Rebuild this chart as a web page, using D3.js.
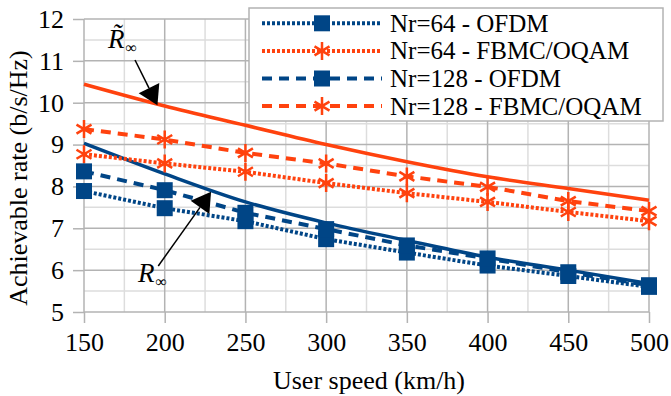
<!DOCTYPE html>
<html>
<head>
<meta charset="utf-8">
<script src="https://cdn.jsdelivr.net/npm/d3@7"></script>
<style>
  body { margin: 0; background: #fff; }
  text { font-family: "Liberation Serif", "Times New Roman", serif; fill: #000; }
</style>
</head>
<body>
<div id="chart"></div>
<script>
// user speed (km/h)
var speeds = [150, 200, 250, 300, 350, 400, 450, 500]

// achievable rate (b/s/Hz)
var ofdm64  = [7.89, 7.48, 7.17, 6.74, 6.42, 6.11, 5.86, 5.60]
var fbmc64  = [8.77, 8.55, 8.35, 8.08, 7.84, 7.63, 7.39, 7.17]
var ofdm128 = [8.36, 7.91, 7.37, 6.98, 6.59, 6.28, 5.95, 5.64]
var fbmc128 = [9.37, 9.12, 8.80, 8.55, 8.24, 7.99, 7.65, 7.41]
var rInfTilde = [10.44, 9.92, 9.46, 9.00, 8.59, 8.23, 7.95, 7.67]
var rInf      = [9.03, 8.30, 7.63, 7.13, 6.71, 6.31, 6.00, 5.68]

var seriesNames = ['Nr=64 - OFDM', 'Nr=64 - FBMC/OQAM', 'Nr=128 - OFDM', 'Nr=128 - FBMC/OQAM']
var xTicks = [150, 200, 250, 300, 350, 400, 450, 500]
var yTicks = [5, 6, 7, 8, 9, 10, 11, 12]

var blue = '#004586', red = '#ff420e'
var dotted = '3,2', dashed = '10,7'

var series = [
  {name: seriesNames[0], values: ofdm64,  color: blue, dash: dotted, marker: 'square'},
  {name: seriesNames[1], values: fbmc64,  color: red,  dash: dotted, marker: 'star'},
  {name: seriesNames[2], values: ofdm128, color: blue, dash: dashed, marker: 'square'},
  {name: seriesNames[3], values: fbmc128, color: red,  dash: dashed, marker: 'star'}
]

var W = 671, H = 396
var m = {left: 84, right: 22, top: 19, bottom: 84}
var serif = '"Liberation Serif", "Times New Roman", serif'

var svg = d3.select('#chart').append('svg').attr('width', W).attr('height', H)

var x = d3.scaleLinear().domain([150, 500]).range([m.left, W - m.right])
var y = d3.scaleLinear().domain([5, 12]).range([H - m.bottom, m.top])

// grid, minor first then major
var minorX = d3.range(175, 500, 50), minorY = d3.range(5.5, 12, 1)
var grid = svg.append('g')
grid.selectAll('line.mx').data(minorX).join('line')
  .attr('x1', d => x(d)).attr('x2', d => x(d)).attr('y1', y(5)).attr('y2', y(12))
  .attr('stroke', '#dddddd').attr('stroke-width', 1.5)
grid.selectAll('line.my').data(minorY).join('line')
  .attr('y1', d => y(d)).attr('y2', d => y(d)).attr('x1', x(150)).attr('x2', x(500))
  .attr('stroke', '#dddddd').attr('stroke-width', 1.5)
grid.selectAll('line.gx').data(xTicks).join('line')
  .attr('x1', d => x(d)).attr('x2', d => x(d)).attr('y1', y(5)).attr('y2', y(12))
  .attr('stroke', '#b3b3b3').attr('stroke-width', 1.5)
grid.selectAll('line.gy').data(yTicks).join('line')
  .attr('y1', d => y(d)).attr('y2', d => y(d)).attr('x1', x(150)).attr('x2', x(500))
  .attr('stroke', '#b3b3b3').attr('stroke-width', 1.5)

// axes (ticks + labels)
var xAxis = svg.append('g').attr('transform', 'translate(0,' + y(5) + ')')
  .call(d3.axisBottom(x).tickValues(xTicks).tickFormat(d3.format('d')).tickSize(11).tickPadding(10))
var yAxis = svg.append('g').attr('transform', 'translate(' + x(150) + ',0)')
  .call(d3.axisLeft(y).tickValues(yTicks).tickFormat(d3.format('d')).tickSize(11).tickPadding(9))
;[xAxis, yAxis].forEach(function(a){
  a.select('.domain').remove()
  a.selectAll('.tick line').attr('stroke', '#b3b3b3').attr('stroke-width', 1.5)
  a.selectAll('.tick text').style('font-size', '26px').style('font-family', serif).attr('fill', '#000')
})

svg.append('text').attr('x', 369).attr('y', 389).attr('text-anchor', 'middle')
  .attr('font-size', 26).text('User speed (km/h)')
svg.append('text').attr('transform', 'translate(27,178) rotate(-90)').attr('text-anchor', 'middle')
  .attr('font-size', 26).text('Achievable rate (b/s/Hz)')

// lines
var straight = d3.line().x((d, i) => x(speeds[i])).y(d => y(d))
var smooth = d3.line().x((d, i) => x(speeds[i])).y(d => y(d)).curve(d3.curveMonotoneX)

var plot = svg.append('g')
plot.append('path').attr('d', smooth(rInf)).attr('fill', 'none').attr('stroke', blue).attr('stroke-width', 3.5)
plot.append('path').attr('d', smooth(rInfTilde)).attr('fill', 'none').attr('stroke', red).attr('stroke-width', 3.5)

var starPath = 'M0,-9V9M-7.5,-4.5L7.5,4.5M-7.5,4.5L7.5,-4.5'

function drawMarker(g, s, cx, cy){
  if (s.marker == 'square') {
    g.append('rect').attr('x', cx - 8).attr('y', cy - 8).attr('width', 16).attr('height', 16).attr('fill', s.color)
  } else {
    g.append('path').attr('d', starPath).attr('transform', 'translate(' + cx + ',' + cy + ')')
      .attr('fill', 'none').attr('stroke', s.color).attr('stroke-width', 2.5)
  }
}

series.forEach(function(s){
  plot.append('path').attr('d', straight(s.values)).attr('fill', 'none')
    .attr('stroke', s.color).attr('stroke-width', 4).attr('stroke-dasharray', s.dash)
})
series.forEach(function(s){
  s.values.forEach(function(v, i){ drawMarker(plot, s, x(speeds[i]), y(v)) })
})

// annotations (arrow tail / head in data units)
var arrows = [
  {from: [181.6, 11.02], to: [195.5, 9.94]},
  {from: [196.0, 6.10], to: [228.7, 7.87]}
]
arrows.forEach(function(a){
  var x0 = x(a.from[0]), y0 = y(a.from[1]), x1 = x(a.to[0]), y1 = y(a.to[1])
  var dx = x1 - x0, dy = y1 - y0, len = Math.sqrt(dx * dx + dy * dy)
  var ux = dx / len, uy = dy / len, L = 19, hw = 11.5
  var bx = x1 - ux * L, by = y1 - uy * L
  svg.append('line').attr('x1', x0).attr('y1', y0).attr('x2', bx).attr('y2', by)
    .attr('stroke', '#000').attr('stroke-width', 1.5)
  svg.append('path').attr('fill', '#000')
    .attr('d', 'M' + x1 + ',' + y1 + 'L' + (bx - uy * hw) + ',' + (by + ux * hw) + 'L' + (bx + uy * hw) + ',' + (by - ux * hw) + 'Z')
})

var labels = [
  {at: [164.9, 11.31], symbol: 'R\u0303'},
  {at: [183.5, 5.71], symbol: 'R'}
]
labels.forEach(function(l){
  var t = svg.append('text').attr('x', x(l.at[0])).attr('y', y(l.at[1])).attr('font-size', 27)
  t.append('tspan').attr('font-style', 'italic').text(l.symbol)
  t.append('tspan').attr('font-size', 16).attr('dy', 5).attr('dx', 1).text('∞')
})

// legend
var lg = svg.append('g')
lg.append('rect').attr('x', 249).attr('y', 8).attr('width', 414).attr('height', 113)
  .attr('fill', '#fff').attr('stroke', '#b3b3b3').attr('stroke-width', 1.5)
series.forEach(function(s, i){
  var ly = 23.3 + i * 27.6
  lg.append('line').attr('x1', 262).attr('x2', 382).attr('y1', ly).attr('y2', ly)
    .attr('stroke', s.color).attr('stroke-width', 4).attr('stroke-dasharray', s.dash)
  drawMarker(lg, s, 322, ly)
  lg.append('text').attr('x', 390).attr('y', ly + 8.5).attr('font-size', 25).text(s.name)
})
</script>
</body>
</html>
